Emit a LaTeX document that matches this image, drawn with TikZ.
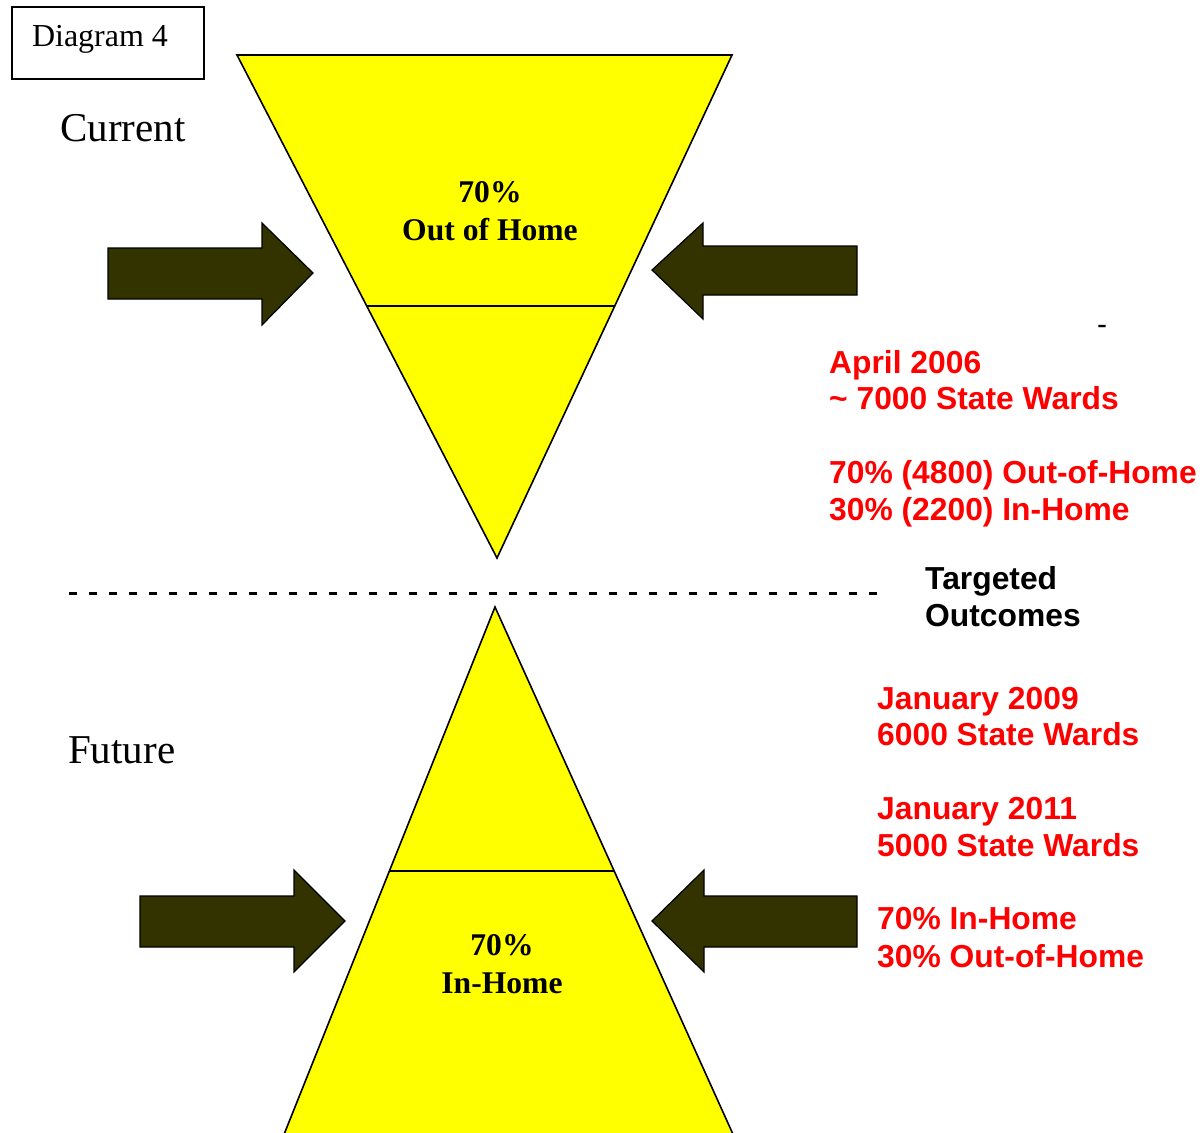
\documentclass[tikz,border=0pt]{standalone}
\usepackage{fontspec}
\setmainfont{Liberation Serif}
\newfontfamily\arialfont{Liberation Sans}
\definecolor{pushfill}{HTML}{333300}
\definecolor{funnelfill}{HTML}{FFFF00}
\definecolor{notered}{HTML}{FF0000}
\begin{document}
\begin{tikzpicture}[x=1pt,y=-1pt,
  funnel/.style={fill=funnelfill, draw=black, line width=1.6pt, line join=miter},
  splitline/.style={draw=black, line width=1.6pt},
  push/.style={fill=pushfill, draw=black, line width=1.2pt, line join=miter},
  funneltext/.style={align=center, inner sep=0pt, font=\bfseries\fontsize{31.6}{38}\selectfont},
  sidetitle/.style={anchor=west, inner sep=0pt, font=\fontsize{41}{41}\selectfont},
  noteline/.style={anchor=base west, inner sep=0pt, text=notered, font=\arialfont\bfseries\fontsize{31.8}{37}\selectfont},
  headline/.style={noteline, text=black},
  divider/.style={line width=3pt, dash pattern=on 8pt off 12pt}]
\useasboundingbox (0,0) rectangle (1204,1132);
\clip (0,0) rectangle (1204,1132);

% label box
\node[draw=black, line width=1.2pt, minimum width=192pt, minimum height=72pt, inner sep=0pt]
  (tag) at (108,43) {};
\node[anchor=base, inner sep=0pt, font=\fontsize{32}{32}\selectfont] (tagtext) at (100,47) {Diagram 4};

% current state: inverted funnel
\node[sidetitle] (current) at (60,128) {Current};
\draw[funnel] (237,55) -- (732,55) -- (497,558) -- cycle;
\coordinate (topsplitL) at (366.7,306);
\coordinate (topsplitR) at (614.7,306);
\draw[splitline] (topsplitL) -- (topsplitR);
\node[funneltext] (outhome) at (490,211) {70\%\\Out of Home};

% pressure arrows on the inverted funnel
\draw[push] (108,248) -- (262,248) -- (262,223) -- (313,273) -- (262,325) -- (262,299) -- (108,299) -- cycle;
\draw[push] (857,246) -- (703,246) -- (703,223) -- (652,270) -- (703,319) -- (703,295) -- (857,295) -- cycle;

% divider
\coordinate (divL) at (69,593);
\coordinate (divR) at (880,593);
\draw[divider] (divL) -- (divR);

% future state: upright funnel
\node[sidetitle] (future) at (68,750) {Future};
\draw[funnel] (495,607) -- (740.1,1150) -- (277.8,1150) -- cycle;
\coordinate (botsplitL) at (389.4,871);
\coordinate (botsplitR) at (614.2,871);
\draw[splitline] (botsplitL) -- (botsplitR);
\node[funneltext] (inhome) at (502,964) {70\%\\In-Home};

% pressure arrows on the upright funnel
\draw[push] (140,896) -- (294,896) -- (294,870) -- (345,921) -- (294,972) -- (294,947) -- (140,947) -- cycle;
\draw[push] (857,896) -- (704,896) -- (704,870) -- (652,921) -- (704,972) -- (704,947) -- (857,947) -- cycle;

% figures for the current state
\node[anchor=base, inner sep=0pt, font=\arialfont\fontsize{30}{30}\selectfont] (tick) at (1102,334) {-};
\node[noteline] (n1) at (829,373) {April 2006};
\node[noteline] (n2) at (829,409) {\textasciitilde\ 7000 State Wards};
\node[noteline] (n3) at (829,483) {70\% (4800) Out-of-Home};
\node[noteline] (n4) at (829,520) {30\% (2200) In-Home};

% targets
\node[headline] (t1) at (925,589) {Targeted};
\node[headline] (t2) at (925,626) {Outcomes};
\node[noteline] (f1) at (877,709) {January 2009};
\node[noteline] (f2) at (877,745) {6000 State Wards};
\node[noteline] (f3) at (877,819) {January 2011};
\node[noteline] (f4) at (877,856) {5000 State Wards};
\node[noteline] (f5) at (877,929) {70\% In-Home};
\node[noteline] (f6) at (877,967) {30\% Out-of-Home};
\end{tikzpicture}
\end{document}
